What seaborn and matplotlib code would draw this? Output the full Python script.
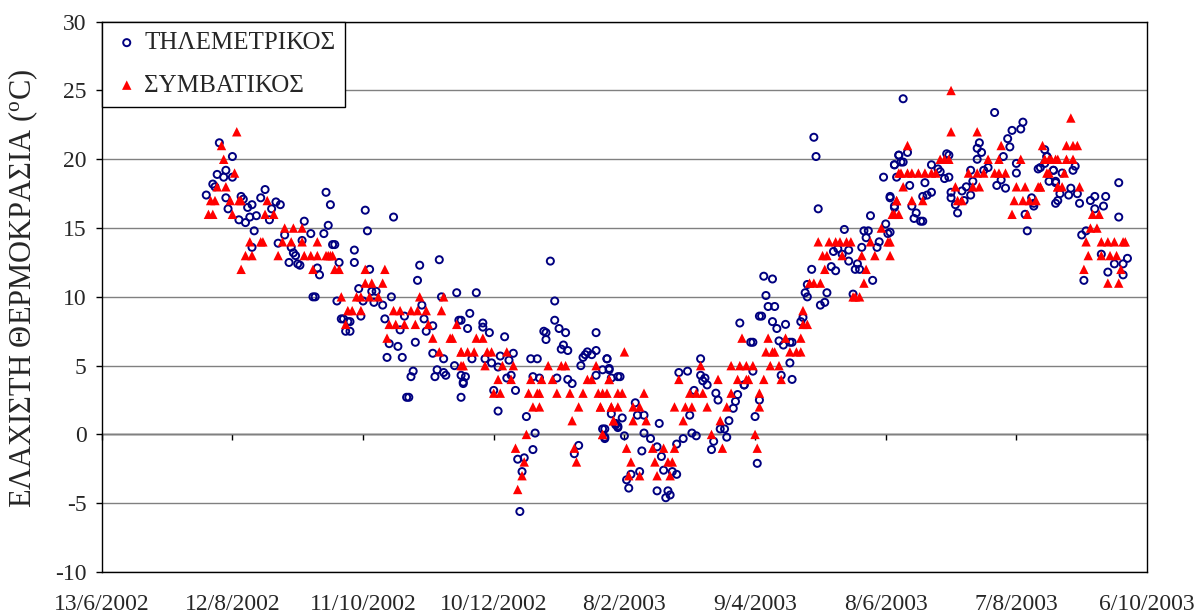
import numpy as np
import pandas as pd
import matplotlib
matplotlib.use("Agg")
import matplotlib.pyplot as plt
import seaborn as sns

# ---------------- data ----------------
start_date = "2002-06-13"
tick_labels = ["13/6/2002", "12/8/2002", "11/10/2002", "10/12/2002", "8/2/2003",
               "9/4/2003", "8/6/2003", "7/8/2003", "6/10/2003"]

# Telemetric station (circles): day offset from 13/6/2002, minimum temperature
tele_days = [54,60,57,53,56,60,51,52,75,48,57,64,65,73,80,82,58,67,69,78,63,66,68,71,77,93,70,84,96,102,104,69,81,87,88,89,92,86,90,91,99,100,103,105,97,98,106,
             121,122,134,107,116,109,116,123,146,155,145,118,124,126,108,120,125,129,133,156,163,147,110,111,113,114,112,114,119,130,139,148,149,152,137,164,132,136,131,138,144,152,157,162,165,166,143,142,154,153,157,158,141,140,165,
             206,172,208,169,208,165,175,175,168,178,203,204,204,210,213,185,227,212,214,211,189,170,176,179,183,187,197,200,221,222,223,225,227,232,220,233,182,186,188,198,201,209,214,216,227,237,167,166,180,190,182,195,199,231,231,236,237,234,219,217,194,191,193,198,192,
             293,302,298,232,233,234,238,230,275,265,269,275,277,278,276,272,282,283,295,292,291,290,300,245,246,249,270,239,230,231,236,237,256,240,249,252,255,271,273,267,264,284,286,287,288,281,280,248,257,301,247,243,241,242,258,262,264,255,260,261,259,
             327,328,329,359,362,364,366,364,353,341,350,352,351,349,360,361,357,356,336,338,340,343,343,347,346,348,335,337,354,345,326,324,323,324,333,332,330,304,308,305,306,309,303,308,310,314,321,322,311,313,316,317,299,316,312,317,299,295,302,
             368,410,423,422,418,416,417,366,370,402,403,404,402,364,365,368,367,381,384,385,388,389,387,389,378,371,381,379,377,390,390,395,397,399,392,393,396,399,400,407,405,411,413,415,414,420,420,425,424,427,428,428,430,431,434,437,438,440,364,362,372,374,373,376,377,362,
             433,433,434,437,435,438,441,446,447,439,438,444,445,449,448,454,456,461,456,460,467,467,450,452,459,465,462,469,471,469,451]
tele_vals = [21.2,20.2,19.2,18.9,18.7,18.7,18.2,18.0,17.8,17.4,17.2,17.3,17.1,17.2,16.9,16.7,16.4,16.5,16.7,16.4,15.6,15.4,15.8,15.9,15.6,15.5,14.8,14.5,14.6,14.6,15.2,13.6,13.9,13.6,13.2,13.0,14.1,12.5,12.4,12.3,12.1,11.6,17.6,16.7,10.0,10.0,13.8,
             16.3,14.8,15.8,13.8,13.4,12.5,12.5,12.0,12.3,12.7,11.2,10.6,10.4,10.4,9.7,9.7,9.6,9.4,10.0,10.0,10.3,9.4,8.4,8.4,8.2,8.2,7.5,7.5,8.6,8.4,8.6,8.4,7.5,7.9,7.6,8.3,6.6,6.4,5.6,5.6,6.7,5.9,5.5,5.0,4.3,3.7,4.6,4.2,4.7,4.2,4.5,4.3,2.7,2.7,2.7,
             12.6,10.3,9.7,8.8,8.3,8.3,8.1,7.8,7.7,7.4,7.5,7.4,6.9,7.7,7.4,7.1,7.4,6.5,6.1,6.2,5.9,5.5,5.5,5.2,5.7,5.4,5.5,5.5,5.6,5.8,6.0,5.8,6.1,5.5,5.0,4.8,4.9,4.1,4.3,4.2,4.1,4.1,4.0,3.7,4.3,4.2,4.2,3.8,3.2,3.2,1.7,1.3,0.1,0.4,-0.3,0.8,0.6,1.5,-0.8,-1.4,-1.7,-1.8,-2.7,-1.1,-5.6,
             8.1,8.6,6.7,5.5,4.7,4.1,4.2,4.7,5.5,4.5,4.6,4.3,4.1,3.6,3.9,3.2,3.0,2.5,3.6,2.9,2.4,1.9,1.3,2.3,1.4,1.4,1.4,1.2,0.4,-0.2,0.7,0.5,0.8,-0.1,0.1,-0.3,-0.9,0.1,-0.1,-0.3,-0.7,0.4,0.4,-0.2,1.0,-0.5,-1.1,-1.2,-1.6,-2.1,-2.7,-2.9,-3.3,-3.9,-2.6,-2.7,-2.9,-4.1,-4.1,-4.4,-4.6,
             21.6,20.2,16.4,18.7,17.2,19.6,20.3,16.5,15.9,14.9,14.8,14.8,14.3,13.6,15.3,14.6,14.0,13.6,13.3,13.5,13.1,13.4,12.6,12.4,12.0,12.0,12.2,11.9,11.2,10.2,12.0,10.9,10.3,10.0,10.3,9.6,9.4,11.5,11.3,10.1,9.3,9.3,8.6,8.2,7.7,8.0,8.2,8.5,6.8,6.5,6.7,6.7,6.7,5.2,4.3,4.0,4.6,3.6,2.5,
             24.4,23.4,22.7,22.2,22.1,21.5,20.9,20.3,20.5,20.8,21.2,20.5,20.0,19.6,18.7,19.8,19.8,19.6,19.3,19.1,20.4,20.3,18.6,18.7,18.3,18.1,17.6,17.4,17.3,17.6,17.2,17.7,18.0,19.2,16.7,16.1,17.0,17.4,18.4,19.4,19.2,18.1,18.5,17.9,20.2,19.0,19.7,14.8,16.0,17.2,16.6,16.8,19.3,19.4,20.2,19.2,18.4,17.5,16.6,17.3,16.6,16.1,15.7,15.5,15.5,14.7,
             20.7,19.7,20.2,19.2,18.4,18.3,19.0,19.2,19.5,17.0,16.8,17.4,17.9,16.8,17.5,17.0,17.3,17.3,16.4,16.6,18.3,15.8,14.5,14.8,13.1,12.4,11.8,11.6,12.8,12.4,11.2]

# Conventional station (triangles)
conv_days = [62,55,56,61,53,57,50,52,59,63,64,76,49,51,60,75,79,84,88,92,68,73,74,83,87,92,99,66,69,81,93,96,99,104,64,97,
             103,105,106,107,109,121,130,121,124,129,110,117,119,123,127,146,157,113,115,119,134,137,142,145,149,156,112,132,135,139,144,150,163,131,152,160,161,155,165,165,
             172,175,165,168,171,177,179,186,166,176,184,189,205,211,213,227,182,188,197,202,207,223,225,233,180,183,196,200,201,209,215,221,228,232,237,198,201,219,229,234,216,235,195,230,190,217,194,218,193,191,
             240,294,289,293,296,299,275,233,265,283,292,296,230,239,249,270,273,276,289,229,234,237,244,247,263,268,271,278,287,235,244,250,267,284,230,280,300,241,253,258,263,285,301,243,254,260,262,242,247,255,261,
             329,334,337,339,342,344,353,358,361,331,333,340,349,355,362,332,351,325,327,330,350,345,346,348,322,322,324,321,314,306,305,308,309,316,319,321,307,311,297,304,312,302,302,363,365,366,
             390,390,402,370,413,432,385,387,389,407,412,422,433,436,439,367,370,372,375,378,381,383,398,402,405,410,412,415,434,368,392,400,403,420,424,430,431,439,365,372,377,393,395,419,423,426,429,364,366,418,425,362,
             445,443,446,448,433,435,438,443,446,435,442,431,439,441,449,455,458,454,457,452,459,462,465,469,470,453,459,463,466,451,468,462,467]
conv_vals = [22,21,20,19,18,18,17,17,17,17,17,17,16,16,16,16,16,15,15,15,14,14,14,14,14,14,14,13,13,13,13,13,13,13,12,12,
             13,13,13,12,12,12,12,11,11,11,10,10,10,10,10,10,10,9,9,9,9,9,9,9,9,9,8,8,8,8,8,8,8,7,7,7,7,6,6,5,
             7,7,6,6,6,6,6,6,5,5,5,5,5,5,5,5,4,4,4,4,4,4,4,4,3,3,3,3,3,3,3,3,3,3,3,2,2,2,2,2,1,1,0,0,-1,-1,-2,-2,-3,-4,
             6,7,5,5,5,5,5,4,4,4,4,4,3,3,3,3,3,3,3,2,2,2,2,2,2,2,2,2,2,1,1,1,1,1,0,0,0,-1,-1,-1,-1,-1,-1,-2,-2,-2,-2,-3,-3,-3,-3,
             14,14,14,14,14,14,14,15,14,13,13,13,13,13,13,12,12,11,11,11,11,10,10,10,9,8,8,7,7,7,6,6,6,6,6,6,5,5,4,4,4,3,2,16,17,19,
             25,22,22,21,21,21,20,20,20,20,20,20,20,20,20,19,19,19,19,19,19,19,19,19,19,19,19,19,19,18,18,18,18,18,18,18,18,18,17,17,17,17,17,17,17,17,17,16,16,16,16,14,
             23,21,21,21,20,20,20,20,20,19,19,18,18,18,18,16,16,15,15,14,14,14,14,14,14,13,13,13,13,12,12,11,11]

label_tele = "ΤΗΛΕΜΕΤΡΙΚΟΣ"
label_conv = "ΣΥΜΒΑΤΙΚΟΣ"
ylabel = r"ΕΛΑΧΙΣΤΗ ΘΕΡΜΟΚΡΑΣΙΑ ($^{\mathrm{o}}$C)"

# ---------------- build frames ----------------
base = pd.Timestamp(start_date)
tele = pd.DataFrame({"date": base + pd.to_timedelta(tele_days, unit="D"), "temp": tele_vals})
conv = pd.DataFrame({"date": base + pd.to_timedelta(conv_days, unit="D"), "temp": conv_vals})
tick_dates = pd.to_datetime(tick_labels, format="%d/%m/%Y")

# ---------------- style ----------------
sns.set_style("white")
plt.rcParams["font.family"] = ["Liberation Serif", "DejaVu Serif"]
plt.rcParams["mathtext.fontset"] = "custom"
plt.rcParams["mathtext.rm"] = "Liberation Serif"
plt.rcParams["mathtext.it"] = "Liberation Serif:italic"
plt.rcParams["axes.unicode_minus"] = False

fig = plt.figure(figsize=(12.04, 6.15), dpi=100)
ax = fig.add_axes([0.0845, 0.0699, 0.8682, 0.8948])

sns.scatterplot(data=tele, x="date", y="temp", ax=ax, marker="o", s=26,
                color="#000080", edgecolor="#000080", linewidth=1.4, label=label_tele, zorder=3)
sns.scatterplot(data=conv, x="date", y="temp", ax=ax, marker="^", s=46,
                color="#FF0000", edgecolor="none", linewidth=0, label=label_conv, zorder=4)
ax.collections[0].set_facecolor("none")

ax.set_xlim(tick_dates[0], tick_dates[-1])
ax.set_ylim(-10, 30)
ax.set_yticks(np.arange(-10, 31, 5))
ax.set_xticks(tick_dates)
ax.set_xticklabels(tick_labels)
ax.set_xlabel("")
ax.set_ylabel(ylabel, fontsize=22, labelpad=6)
ax.yaxis.set_label_coords(-0.059, 0.515)

ax.yaxis.grid(True, color="#808080", linewidth=1.0)
ax.xaxis.grid(False)
ax.set_axisbelow(True)
for sp in ax.spines.values():
    sp.set_visible(True)
    sp.set_color("black")
    sp.set_linewidth(1.0)

ax.tick_params(axis="y", left=True, direction="out", length=4, width=1, pad=7, labelsize=17, color="black")
ax.tick_params(axis="x", bottom=False, length=0, pad=16, labelsize=17)

# horizontal axis line crossing at 0 with its tick marks
sec = ax.secondary_xaxis(0.25)
sec.set_xticks(tick_dates)
sec.set_xticklabels([""] * len(tick_dates))
sec.tick_params(axis="x", direction="out", length=4, width=1, color="black")
sec.spines["bottom"].set_color("black")
sec.spines["bottom"].set_linewidth(1.0)

leg = ax.legend(loc="upper left", bbox_to_anchor=(0, 1), borderaxespad=0,
                fontsize=18, frameon=True, fancybox=False, shadow=False,
                borderpad=0.4, labelspacing=0.8, handlelength=1.2, handletextpad=0.1)
leg.get_frame().set_edgecolor("black")
leg.get_frame().set_linewidth(1.0)
leg.get_frame().set_alpha(1)

fig.savefig("out.png", dpi=100)
